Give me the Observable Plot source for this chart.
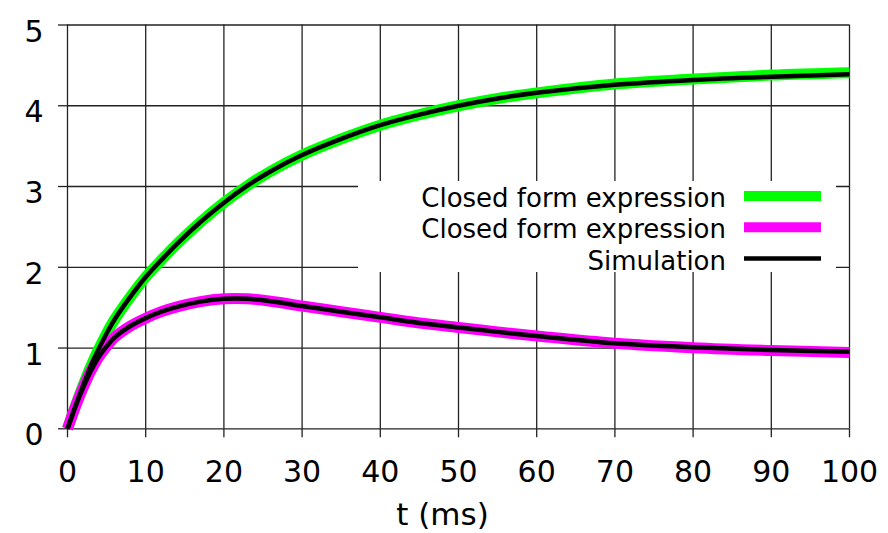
<!DOCTYPE html>
<html><head><meta charset="utf-8">
<script src="https://cdn.jsdelivr.net/npm/d3@7"></script>
<script src="https://cdn.jsdelivr.net/npm/@observablehq/plot@0.6"></script>
<style>body{margin:0;background:#fff}#chart{width:888px;height:533px}</style>
</head><body><div id="chart"></div>
<script>
const t       = [0, 1, 2, 3, 4, 5, 6, 8, 10, 12, 14, 17, 20, 23, 26, 30, 35, 40, 45, 50, 55, 60, 70, 80, 90, 100];
const closedA = [0, 0.28, 0.54, 0.78, 0.99, 1.18, 1.35, 1.63, 1.88, 2.09, 2.29, 2.56, 2.80, 3.01, 3.19, 3.39, 3.59, 3.76, 3.89, 4.00, 4.09, 4.16, 4.27, 4.33, 4.38, 4.41];
const closedB = [0, 0.27, 0.51, 0.72, 0.89, 1.02, 1.13, 1.27, 1.37, 1.45, 1.51, 1.575, 1.61, 1.61, 1.58, 1.52, 1.45, 1.38, 1.31, 1.255, 1.2, 1.15, 1.06, 1.005, 0.97, 0.945];
const simA    = [0, 0.28, 0.54, 0.78, 0.99, 1.18, 1.35, 1.63, 1.88, 2.09, 2.29, 2.56, 2.80, 3.01, 3.19, 3.39, 3.59, 3.76, 3.89, 4.00, 4.09, 4.16, 4.26, 4.32, 4.36, 4.39];
const simB    = [0, 0.27, 0.51, 0.72, 0.89, 1.02, 1.13, 1.27, 1.37, 1.45, 1.51, 1.575, 1.61, 1.61, 1.58, 1.52, 1.45, 1.38, 1.31, 1.255, 1.2, 1.15, 1.06, 1.01, 0.975, 0.955];
const xTicks = [0, 10, 20, 30, 40, 50, 60, 70, 80, 90, 100];
const yTicks = [0, 1, 2, 3, 4, 5];
const legendLabels = ["Closed form expression", "Closed form expression", "Simulation"];
const xLabel = "t (ms)";

const rows = (vals) => t.map((tt, i) => ({t: tt, v: vals[i]}));
const gridStyle = {stroke: "#222", strokeOpacity: 1, strokeWidth: 1.3};

const plot = Plot.plot({
  width: 888, height: 533,
  marginLeft: 67, marginRight: 39, marginTop: 24.5, marginBottom: 104.7,
  x: {domain: [0, 100]},
  y: {domain: [0, 5]},
  style: {fontFamily: "'DejaVu Sans', sans-serif", fontSize: "30px", color: "#000", background: "#fff", overflow: "visible"},
  marks: [
    Plot.gridX(xTicks, gridStyle),
    Plot.gridY(yTicks, gridStyle),
    Plot.axisX(xTicks, {tickSize: 9, tickPadding: 23, label: null, stroke: "#222", strokeWidth: 1.3, fontSize: 30, tickFormat: "d"}),
    Plot.axisY(yTicks, {tickSize: 9, label: null, fill: "none", stroke: "#222", strokeWidth: 1.3}),
    Plot.axisY(yTicks, {tickSize: 9, tickPadding: 15, label: null, stroke: "none", dy: 7, fontSize: 30, tickFormat: "d"}),
    Plot.line(rows(closedA), {x: "t", y: "v", stroke: "#00ff00", strokeWidth: 11, strokeLinecap: "butt", curve: "catmull-rom"}),
    Plot.line(rows(closedB), {x: "t", y: "v", stroke: "#ff00ff", strokeWidth: 11, strokeLinecap: "butt", curve: "catmull-rom"}),
    Plot.line(rows(simA), {x: "t", y: "v", stroke: "#000", strokeWidth: 4.5, strokeLinecap: "butt", curve: "catmull-rom"}),
    Plot.line(rows(simB), {x: "t", y: "v", stroke: "#000", strokeWidth: 4.5, strokeLinecap: "butt", curve: "catmull-rom"}),
    Plot.text([xLabel], {frameAnchor: "bottom", lineAnchor: "bottom", dx: -16, dy: 96, fontSize: 31})
  ]
});
document.getElementById("chart").appendChild(plot);

// legend box inside the plot (white background hides the grid)
const svg = d3.select(plot);
const lg = svg.append("g").attr("font-family", "'DejaVu Sans', sans-serif").attr("font-size", 26);
lg.append("rect").attr("x", 358).attr("y", 181).attr("width", 478).attr("height", 91).attr("fill", "#fff");
const swatchColors = ["#00ff00", "#ff00ff", "#000"];
const swatchWidths = [10, 10, 4.5];
legendLabels.forEach((lab, i) => {
  const base = 207 + i * 31.3;
  lg.append("text").attr("x", 726).attr("y", base).attr("text-anchor", "end").attr("fill", "#000").text(lab);
  lg.append("line").attr("x1", 744).attr("x2", 821).attr("y1", base - 11).attr("y2", base - 11)
    .attr("stroke", swatchColors[i]).attr("stroke-width", swatchWidths[i]);
});
</script>
</body></html>
